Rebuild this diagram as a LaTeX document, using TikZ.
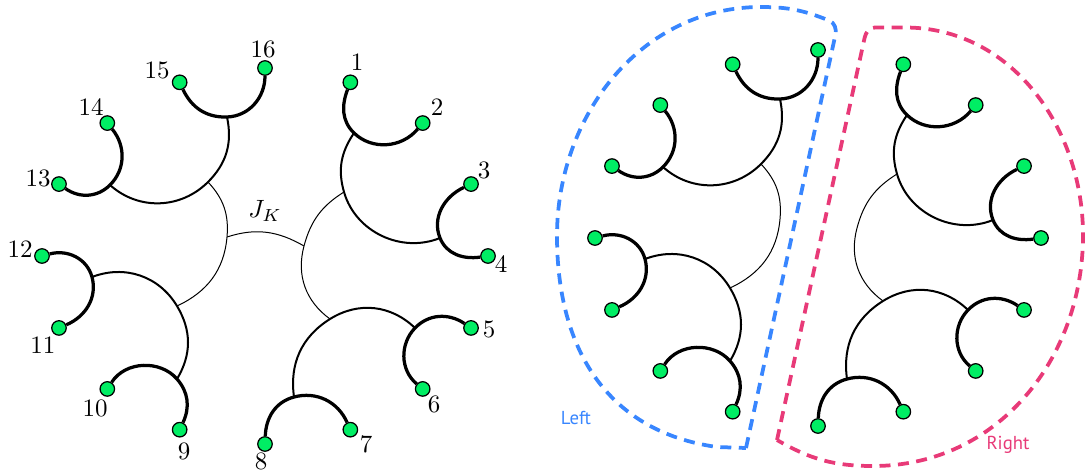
\documentclass[tikz,border=0pt]{standalone}
\usepackage{fontspec}
\newfontfamily\sidefont{PT Sans}
\usetikzlibrary{positioning}
\definecolor{leafgreen}{RGB}{0,238,100}
\definecolor{leftblue}{RGB}{56,134,255}
\definecolor{rightpink}{RGB}{232,58,120}
\tikzset{
  leaf/.style={draw=black,fill=leafgreen,circle,inner sep=0pt,minimum size=5.8pt,line width=0.5pt},
  pairarc/.style={line width=1.3pt},
  midarc/.style={line width=0.8pt},
  toparc/.style={line width=0.4pt},
  region/.style={line width=1.5pt,dash pattern=on 4.4pt off 3pt},
  sidetag/.style={font=\sidefont\fontsize{7.5}{9}\selectfont},
}
% the two halves of the tree, #1 = name prefix
\newcommand\halves[1]{%
  \foreach \i in {1,...,16}
    \node (#1l\i) at ({265+223*cos(90-22.5*\i)},{256-188*sin(90-22.5*\i)}) [leaf] {};
  %% meeting points
  \coordinate (#1a1) at (354,133);
  \coordinate (#1a2) at (440,238);
  \coordinate (#1a3) at (415,328);
  \coordinate (#1a4) at (294,397);
  \coordinate (#1a5) at (177,379);
  \coordinate (#1a6) at (92,277);
  \coordinate (#1a7) at (110,185);
  \coordinate (#1a8) at (227,117);
  \coordinate (#1b1) at (344,192);
  \coordinate (#1b2) at (330,319);
  \coordinate (#1b3) at (177,306);
  \coordinate (#1b4) at (208,182);
  \coordinate (#1c1) at (304,246);
  \coordinate (#1c2) at (227,237);
  %% leaf pairs
  \draw [pairarc] (#1l1) to[out=249,in=136] (#1a1) to[out=-44,in=230] (#1l2);
  \draw [pairarc] (#1l3) to[out=205,in=112] (#1a2) to[out=-68,in=188] (#1l4);
  \draw [pairarc] (#1l5) to[out=146,in=46] (#1a3) to[out=226,in=140] (#1l6);
  \draw [pairarc] (#1l7) to[out=114,in=15] (#1a4) to[out=195,in=88] (#1l8);
  \draw [pairarc] (#1l9) to[out=65,in=-49] (#1a5) to[out=131,in=57] (#1l10);
  \draw [pairarc] (#1l11) to[out=23,in=-75] (#1a6) to[out=105,in=15] (#1l12);
  \draw [pairarc] (#1l13) to[out=-35,in=225] (#1a7) to[out=45,in=-51] (#1l14);
  \draw [pairarc] (#1l15) to[out=-65,in=182] (#1a8) to[out=2,in=270] (#1l16);
  %% second level
  \draw [midarc] (#1a1) to[out=236,in=106] (#1b1) to[out=-74,in=202] (#1a2);
  \draw [midarc] (#1a3) to[out=136,in=32] (#1b2) to[out=212,in=98] (#1a4);
  \draw [midarc] (#1a5) to[out=59,in=-59] (#1b3) to[out=121,in=21] (#1a6);
  \draw [midarc] (#1a7) to[out=-42,in=225] (#1b4) to[out=45,in=282] (#1a8);
  %% third level
  \draw [toparc] (#1b1) to[out=212,in=75] (#1c1) to[out=255,in=144] (#1b2);
  \draw [toparc] (#1b3) to[out=25,in=265] (#1c2) to[out=85,in=-47] (#1b4);
}

\begin{document}
\begin{tikzpicture}[x=0.4pt,y=-0.4pt]
  \useasboundingbox (0,0) rectangle (1085,473);
  %% whole tree
  \halves{F}
  \draw [toparc] (Fc2) to[out=18,in=150] (Fc1);
  \draw (265,211) node (jk) {$J_K$};
  \draw (357,62) node (t1) {1};
  \draw (437,107) node (t2) {2};
  \draw (484,170) node (t3) {3};
  \draw (501,264) node (t4) {4};
  \draw (489,329) node (t5) {5};
  \draw (434,404) node (t6) {6};
  \draw (366,444) node (t7) {7};
  \draw (261,461) node (t8) {8};
  \draw (184,451) node (t9) {9};
  \draw (95,408) node (t10) {10};
  \draw (43,345) node (t11) {11};
  \draw (20,249) node (t12) {12};
  \draw (38,178) node (t13) {13};
  \draw (91,107) node (t14) {14};
  \draw (157,70) node (t15) {15};
  \draw (263,49) node (t16) {16};
  %% split copy
  \begin{scope}[shift={(553,-18)}]
    \halves{S}
  \end{scope}
  \draw [region,leftblue] (746,448) -- (835.4,34.8) to[out=77.6,in=-22] (829,20.5)
    to[out=158,in=0] (761,7) to[out=180,in=90] (557,236)
    to[out=-90,in=172,looseness=1.08] (717,447) -- cycle;
  \draw [region,rightpink] (777,440) -- (864.6,37.8) to[out=77.7,in=180] (875,27.5)
    -- (905,27.5) to[out=0,in=90] (1083,235) to[out=-90,in=0,looseness=1.02] (873,466)
    to[out=180,in=-30] (777,440) -- cycle;
  \draw (576,418) node (left) [leftblue,sidetag] {Left};
  \draw (1008,445) node (right) [rightpink,sidetag] {Right};
\end{tikzpicture}
\end{document}
